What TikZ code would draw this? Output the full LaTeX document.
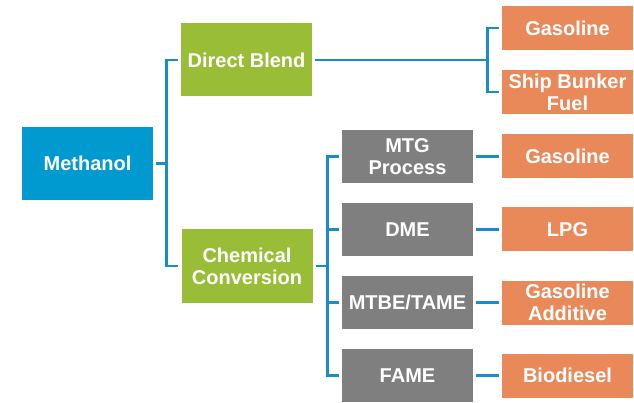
\documentclass[tikz,border=0pt]{standalone}
\usepackage{fontspec}
\setmainfont{Liberation Sans}
\usepackage{xcolor}
\usetikzlibrary{positioning,calc}
\definecolor{cBlue} {HTML}{0099D0}
\definecolor{cGreen}{HTML}{9ABD37}
\definecolor{cGray} {HTML}{7F7F7F}
\definecolor{cOrange}{HTML}{E9895A}
\definecolor{cLink} {HTML}{1A8CC6}

\begin{document}
\begin{tikzpicture}[x=1pt,y=-1pt,
    box/.style={inner sep=0pt,align=center,text=white,
      font=\fontsize{20}{22}\selectfont\bfseries},
    srcbox/.style={box,fill=cBlue,minimum width=131pt,minimum height=73pt},
    routebox/.style={box,fill=cGreen,minimum width=131pt,minimum height=73pt},
    procbox/.style={box,fill=cGray,minimum width=131pt,minimum height=53pt},
    prodbox/.style={box,fill=cOrange,minimum width=131pt,minimum height=44pt},
    link/.style={cLink,line width=2.8pt,shorten <=3pt,shorten >=3pt}]
  \useasboundingbox (0,0) rectangle (634,403);
  \node[srcbox] (meth) at (87.5,163.5) {Methanol};
  \node[routebox] (blend) at (246.5,60) {Direct Blend};
  \node[routebox] (chem) at (247,266) {Chemical\\Conversion};
  \node[prodbox] (gas) at (567.5,28) {Gasoline};
  \node[prodbox] (ship) at (567.5,92) {Ship Bunker\\Fuel};
  % conversion routes and what they give
  \foreach \n/\p/\o/\y in {mtg/{MTG\\Process}/Gasoline/156.5,
      dme/DME/LPG/229.5,
      mtbe/{MTBE/TAME}/{Gasoline\\Additive}/302.5,
      fame/FAME/Biodiesel/375.5}
    {\node[procbox] (\n) at (407.5,\y) {\p};
     \node[prodbox] (\n out) at (567.5,\y) {\o};
     \draw[link] (\n) -- (\n out);
     \draw[link] (chem.east) -- ++(15,0) |- (\n.west);}
  \draw[link] (meth.east) -- ++(13,0) |- (blend.west);
  \draw[link] (meth.east) -- ++(13,0) |- (chem.west);
  \draw[link] (blend.east) -- ++(175,0) |- (gas.west);
  \draw[link] (blend.east) -- ++(175,0) |- (ship.west);
\end{tikzpicture}
\end{document}
